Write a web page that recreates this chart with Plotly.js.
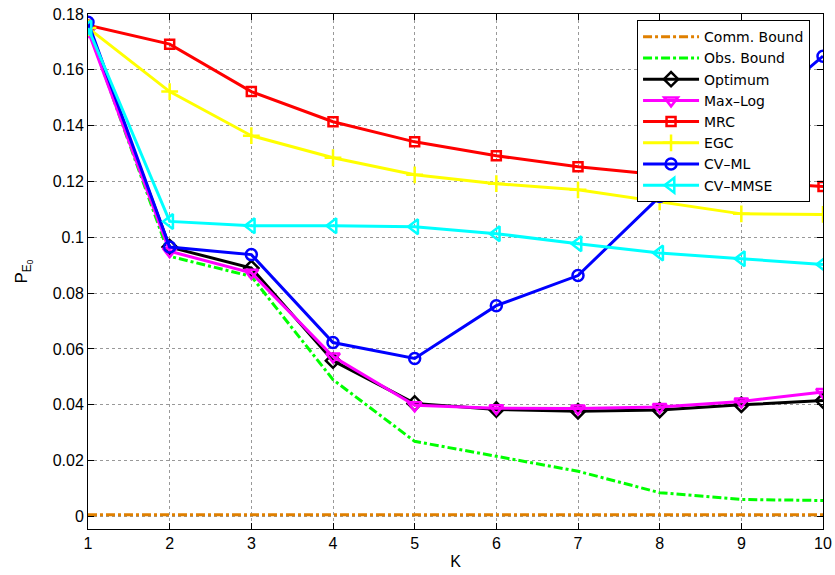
<!DOCTYPE html>
<html>
<head>
<meta charset="utf-8">
<script src="https://cdn.plot.ly/plotly-3.0.1.min.js"></script>
<style>html,body{margin:0;padding:0;background:#fff;}#chart{width:835px;height:575px;}</style>
</head>
<body>
<div id="chart"></div>
<script>
var K = [1, 2, 3, 4, 5, 6, 7, 8, 9, 10];
var commBound = [0.0006, 0.0006, 0.0006, 0.0006, 0.0006, 0.0006, 0.0006, 0.0006, 0.0006, 0.0006];
var obsBound  = [0.175, 0.0932, 0.086, 0.049, 0.0269, 0.0216, 0.0162, 0.0085, 0.0061, 0.0057];
var optimum   = [0.175, 0.0965, 0.089, 0.0558, 0.0405, 0.0383, 0.0377, 0.0381, 0.0400, 0.0415];
var maxLog    = [0.174, 0.0950, 0.0873, 0.0573, 0.0398, 0.0388, 0.0387, 0.0392, 0.0412, 0.0446];
var mrc       = [0.176, 0.1692, 0.1522, 0.1414, 0.1342, 0.1292, 0.1253, 0.1224, 0.1200, 0.1182];
var egc       = [0.175, 0.1522, 0.1364, 0.1285, 0.1224, 0.1192, 0.1170, 0.1127, 0.1084, 0.1082];
var cvml      = [0.177, 0.0965, 0.0938, 0.0623, 0.0566, 0.0755, 0.0863, 0.1146, 0.1400, 0.1649];
var cvmmse    = [0.175, 0.1057, 0.1041, 0.1041, 0.1038, 0.1013, 0.0977, 0.0944, 0.0923, 0.0903];
var names = ['Comm. Bound', 'Obs. Bound', 'Optimum', 'Max\u2013Log', 'MRC', 'EGC', 'CV\u2013ML', 'CV\u2013MMSE'];

function tr(y, name, color, dash, symbol, msize) {
  var t = {x: K, y: y, name: name, type: 'scatter',
    line: {color: color, width: 3, dash: dash || 'solid'}};
  if (symbol) {
    t.mode = 'lines+markers';
    t.marker = {symbol: symbol, size: msize || 11, color: color, line: {color: color, width: 2.5}};
  } else {
    t.mode = 'lines';
  }
  return t;
}

var data = [
  tr(commBound, names[0], '#E08000', 'dashdot'),
  tr(obsBound, names[1], '#00FF00', 'dashdot'),
  tr(optimum, names[2], '#000000', 'solid', 'diamond-open', 11),
  tr(maxLog, names[3], '#FF00FF', 'solid', 'triangle-down-open', 12),
  tr(mrc, names[4], '#FF0000', 'solid', 'square-open', 9),
  tr(egc, names[5], '#FFFF00', 'solid', 'cross-thin-open', 12),
  tr(cvml, names[6], '#0000FF', 'solid', 'circle-open', 11),
  tr(cvmmse, names[7], '#00FFFF', 'solid', 'triangle-left-open', 13)
];

var layout = {
  width: 835, height: 575,
  margin: {l: 88, r: 12, t: 14, b: 46},
  paper_bgcolor: '#fff', plot_bgcolor: '#fff',
  font: {family: 'Liberation Sans, Arial, sans-serif', size: 16, color: '#000'},
  showlegend: true,
  legend: {x: 0.747, y: 0.988, xanchor: 'left', yanchor: 'top',
    bgcolor: '#fff', bordercolor: '#000', borderwidth: 1,
    font: {family: 'DejaVu Sans, sans-serif', size: 14}, itemwidth: 56, tracegroupgap: 0},
  xaxis: {range: [1, 10], tick0: 1, dtick: 1, showline: true, linecolor: '#000', linewidth: 1,
    mirror: 'ticks', ticks: 'inside', ticklen: 6, tickcolor: '#000',
    showgrid: true, gridcolor: '#999', griddash: 'dot', gridwidth: 1, zeroline: false,
    tickfont: {size: 16},
    title: {text: 'K', font: {size: 16}, standoff: 4}},
  yaxis: {range: [-0.0045, 0.18], tick0: 0, dtick: 0.02, showline: true, linecolor: '#000', linewidth: 1,
    mirror: 'ticks', ticks: 'inside', ticklen: 6, tickcolor: '#000',
    showgrid: true, gridcolor: '#999', griddash: 'dot', gridwidth: 1, zeroline: false,
    tickfont: {size: 16},
    title: {text: 'P<sub>E<sub>0</sub></sub>', font: {size: 17}, standoff: 20}}
};

Plotly.newPlot('chart', data, layout, {displayModeBar: false, staticPlot: true});
</script>
</body>
</html>
